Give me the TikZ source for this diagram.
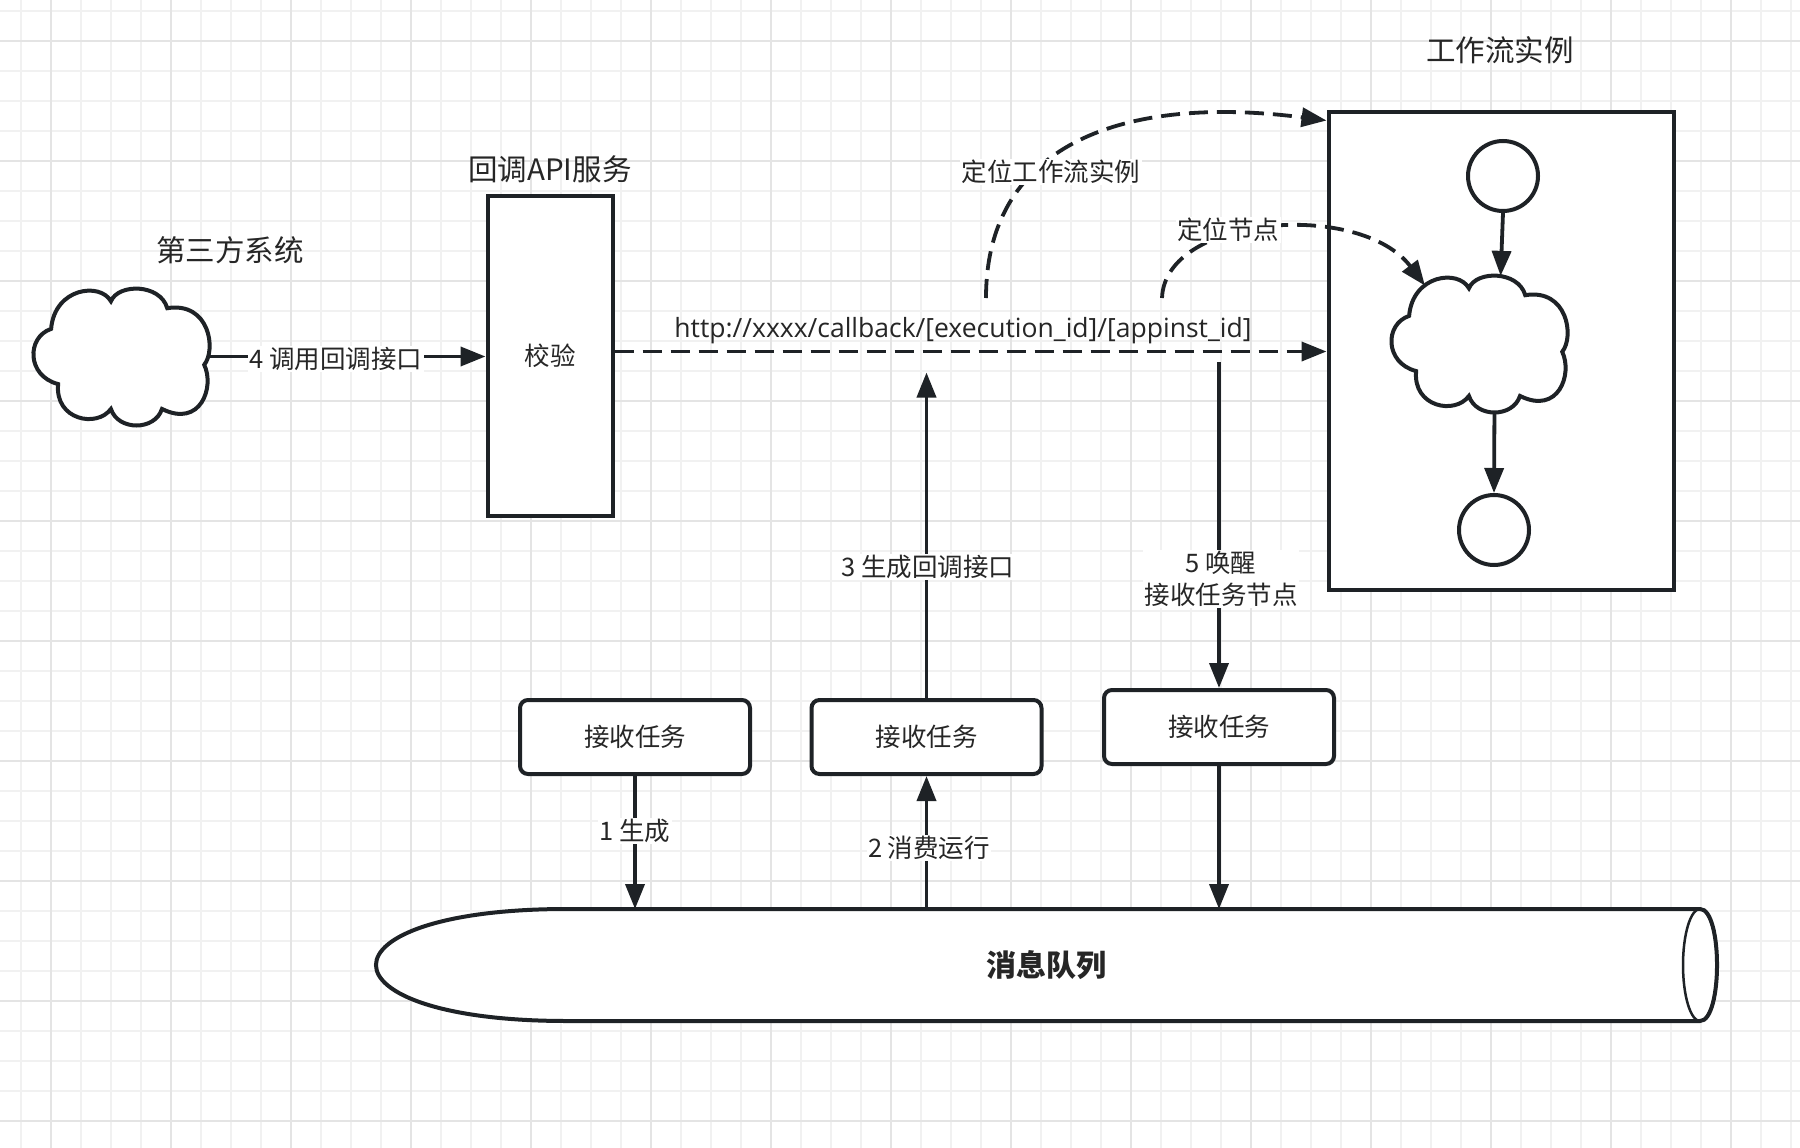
\documentclass[tikz,border=0pt]{standalone}
\usepackage{fontspec}
\setmainfont{Noto Sans CJK SC}
\newfontfamily\urlfont{Open Sans}
\usetikzlibrary{arrows.meta,calc}
\definecolor{ink}{HTML}{1E2226}
\definecolor{txt}{HTML}{262626}
\definecolor{gridminor}{HTML}{F1F1F1}
\definecolor{gridmajor}{HTML}{E4E4E4}
\tikzset{
  shapeline/.style={draw=ink, line width=4pt},
  arrowline/.style={draw=ink, line width=3.8pt, -{Triangle[length=25pt,width=19pt]}},
  dashline/.style={arrowline, dash pattern=on 19pt off 9pt},
  lbl/.style={font=\fontsize{25.5pt}{32pt}\selectfont, text=txt, inner sep=1.5pt},
  elbl/.style={lbl, fill=white},
  titlelbl/.style={font=\fontsize{29.5pt}{34pt}\selectfont, text=txt, inner sep=0pt},
  taskbox/.style={shapeline, rounded corners=8pt, fill=white, minimum width=230pt, minimum height=74pt, lbl},
  plainbox/.style={shapeline, fill=white},
  ringnode/.style={shapeline, circle, fill=white, minimum size=70pt, inner sep=0pt},
  areanode/.style={inner sep=0pt, outer sep=0pt},
}
\newcommand{\cloudshape}{(0.10,0.30) .. controls (0.12,0.0) and (0.38,-0.04) .. (0.44,0.10)
  .. controls (0.48,-0.03) and (0.72,-0.03) .. (0.76,0.15)
  .. controls (1.0,0.10) and (1.04,0.45) .. (0.97,0.56)
  .. controls (1.03,0.72) and (0.95,1.02) .. (0.73,0.88)
  .. controls (0.69,1.04) and (0.48,1.04) .. (0.44,0.88)
  .. controls (0.36,1.02) and (0.12,0.96) .. (0.14,0.70)
  .. controls (-0.04,0.64) and (-0.04,0.36) .. (0.10,0.30) -- cycle}
\begin{document}
\begin{tikzpicture}[x=1pt,y=-1pt]
\useasboundingbox (0,0) rectangle (1800,1148);
\fill[white] (0,0) rectangle (1800,1148);
% grid
\foreach \k in {0,...,59} \draw[gridminor, line width=2pt] ({20.7+30*\k},0) -- ({20.7+30*\k},1148);
\foreach \k in {0,...,37} \draw[gridminor, line width=2pt] (0,{10.7+30*\k}) -- (1800,{10.7+30*\k});
\foreach \k in {0,...,14} \draw[gridmajor, line width=2pt] ({50.7+120*\k},0) -- ({50.7+120*\k},1148);
\foreach \k in {0,...,9} \draw[gridmajor, line width=2pt] (0,{40.7+120*\k}) -- (1800,{40.7+120*\k});

% message queue
\draw[shapeline, fill=white] (567,909) -- (1700,909) .. controls (1722.7,909) and (1722.7,1021) .. (1700,1021) -- (567,1021) .. controls (312.3,1021) and (312.3,909) .. (567,909) -- cycle;
\draw[ink, line width=2.5pt] (1700,965) ellipse [x radius=17, y radius=56];
\node[areanode, minimum width=1338pt, minimum height=112pt, text=txt, font=\fontsize{30pt}{34pt}\selectfont\bfseries] (mq) at (1046.5,965) {消息队列};

% nodes
\node[areanode, minimum width=176pt, minimum height=138pt] (cloudL) at (121.5,356.5) {};
\node[plainbox, lbl, minimum width=125pt, minimum height=320pt] (api) at (550,355.5) {校验};
\node[plainbox, minimum width=345pt, minimum height=478pt] (wf) at (1501,350.5) {};
\node[ringnode] (c1) at (1503,176) {};
\node[ringnode] (c2) at (1494,530) {};
\node[areanode, minimum width=176pt, minimum height=138pt] (wfc) at (1479.5,343.5) {};
\node[taskbox] (t1) at (635,737) {接收任务};
\node[taskbox] (t2) at (926.5,737) {接收任务};
\node[taskbox] (t3) at (1219,727) {接收任务};

% clouds
\begin{scope}[shift={(cloudL.north west)}, x=176pt, y=-138pt]
  \draw[shapeline, fill=white] \cloudshape;
\end{scope}
\begin{scope}[shift={(wfc.north west)}, x=176pt, y=-138pt]
  \draw[shapeline, fill=white] \cloudshape;
  \coordinate (wfc-hit) at (0.19,0.08);
  \coordinate (wfc-top) at (0.62,0.01);
  \coordinate (wfc-bot) at (0.585,0.995);
\end{scope}

% titles
\node[titlelbl] at (230,250) {第三方系统};
\node[titlelbl] at (550,169) {回调API服务};
\node[titlelbl] at (1500,50) {工作流实例};

% call arrow
\draw[arrowline] (cloudL.east) -- (cloudL.east -| api.west);
\node[elbl] at (336,359) {4 调用回调接口};

% callback url
\coordinate (dashy) at (0,351.5);
\draw[dashline] (api.east |- dashy) -- (wf.west |- dashy);
\node[text=txt, font=\urlfont\fontsize{26.5pt}{30pt}\selectfont, inner sep=0pt] (url) at (963,331) {http://xxxx/callback/[execution\_id]/[appinst\_id]};

% locating curves
\coordinate (loc1) at (986,298);
\coordinate (loc2) at (1162,298);
\draw[dashline] (loc1) .. controls (986,140) and (1130,95) .. ($(wf.north west)+(0,11)$);
\draw[dashline] (loc2) .. controls (1165,215) and (1360,200) .. (wfc-hit);
\node[elbl] at (1051,172) {定位工作流实例};
\node[elbl] at (1228,230) {定位节点};

% inner workflow
\draw[arrowline] (c1.south) -- (wfc-top);
\draw[arrowline] (wfc-bot) -- (c2.north);

% vertical arrows
\coordinate (cb3) at (926.5,372.5);
\draw[arrowline] (t2.north) -- (cb3);
\node[elbl] at (928,567) {3 生成回调接口};
\coordinate (wk5) at (1219,362);
\draw[arrowline] (wk5) -- (t3.north);
\node[elbl, align=center] at (1221,579) {5 唤醒\\接收任务节点};
\draw[arrowline] (t1.south) -- (t1.south |- mq.north);
\node[elbl] at (635,831) {1 生成};
\draw[arrowline] (t2.south |- mq.north) -- (t2.south);
\node[elbl] at (929,848) {2 消费运行};
\draw[arrowline] (t3.south) -- (t3.south |- mq.north);
\end{tikzpicture}
\end{document}
